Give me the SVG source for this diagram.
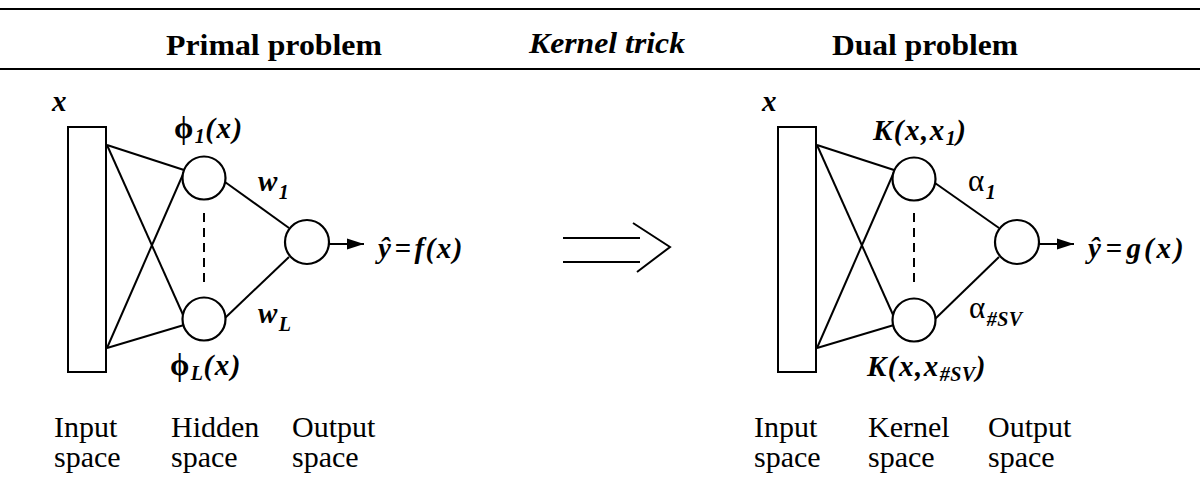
<svg xmlns="http://www.w3.org/2000/svg" width="1200" height="504" viewBox="0 0 1200 504">
<defs>
<marker id="ah" markerWidth="18" markerHeight="12" refX="17" refY="6" orient="auto" markerUnits="userSpaceOnUse">
<path d="M0,0.5 L17,6 L0,11.5 Z" fill="#000"/>
</marker>
</defs>
<style>
.ln{stroke:#000;stroke-width:2;fill:none}
.nd{stroke:#000;stroke-width:2.2;fill:#fff}
.rc{stroke:#000;stroke-width:2;fill:#fff}
.dash{stroke:#000;stroke-width:2;stroke-dasharray:9,6;fill:none}
.hd{font-family:"Liberation Serif","DejaVu Serif",serif;font-weight:bold;font-size:30px;fill:#000}
.mt{font-family:"Liberation Serif","DejaVu Serif",serif;font-weight:bold;font-style:italic;font-size:29px;letter-spacing:1.5px;fill:#000}
.gr{font-style:normal;font-size:31px}
.al{font-style:normal;font-weight:normal;font-size:31px}
.sb{font-size:20px;letter-spacing:0.5px}
.lb{font-family:"Liberation Serif","DejaVu Serif",serif;font-size:30px;fill:#000}
</style>
<rect width="1200" height="504" fill="#fff"/>
<g id="header">
<line x1="0" y1="9" x2="1200" y2="9" class="ln"/>
<line x1="0" y1="69" x2="1200" y2="69" class="ln"/>
<text x="166" y="55" class="hd" textLength="216" lengthAdjust="spacingAndGlyphs">Primal problem</text>
<text x="529" y="53" class="hd" font-style="italic" textLength="156" lengthAdjust="spacingAndGlyphs">Kernel trick</text>
<text x="832" y="55" class="hd" textLength="186" lengthAdjust="spacingAndGlyphs">Dual problem</text>
</g>
<g id="connectors">
<line x1="107" y1="145" x2="184" y2="170" class="ln"/>
<line x1="107" y1="145" x2="184" y2="317" class="ln"/>
<line x1="107" y1="348" x2="184" y2="172" class="ln"/>
<line x1="107" y1="348" x2="184" y2="325" class="ln"/>
<line x1="204" y1="213" x2="204" y2="288" class="dash"/>
<line x1="225" y1="182" x2="289" y2="228" class="ln"/>
<line x1="225" y1="318" x2="289" y2="257" class="ln"/>
<line x1="329" y1="244" x2="364" y2="244" class="ln" marker-end="url(#ah)"/>
<line x1="817" y1="145" x2="894" y2="170" class="ln"/>
<line x1="817" y1="145" x2="894" y2="317" class="ln"/>
<line x1="817" y1="348" x2="894" y2="172" class="ln"/>
<line x1="817" y1="348" x2="894" y2="325" class="ln"/>
<line x1="914" y1="213" x2="914" y2="288" class="dash"/>
<line x1="935" y1="183" x2="999" y2="228" class="ln"/>
<line x1="935" y1="319" x2="999" y2="257" class="ln"/>
<line x1="1039" y1="244" x2="1074" y2="244" class="ln" marker-end="url(#ah)"/>
</g>
<g id="kernel-arrow">
<line x1="563" y1="238" x2="640" y2="238" class="ln"/>
<line x1="563" y1="262" x2="640" y2="262" class="ln"/>
<polyline points="633,223 670,247 637,272" class="ln"/>
</g>
<g id="primal-input">
<rect x="68" y="127" width="38" height="245" class="rc"/>
<text x="52" y="111" class="mt">x</text>
</g>
<g id="primal-hidden-1">
<circle cx="204" cy="178" r="21.5" class="nd"/>
<text x="174" y="138" class="mt"><tspan class="gr">ϕ</tspan><tspan class="sb" dy="5">1</tspan><tspan dy="-5">(x)</tspan></text>
</g>
<g id="primal-hidden-L">
<circle cx="204" cy="319" r="21.5" class="nd"/>
<text x="170" y="375" class="mt"><tspan class="gr">ϕ</tspan><tspan class="sb" dy="5">L</tspan><tspan dy="-5">(x)</tspan></text>
</g>
<g id="primal-output">
<circle cx="307" cy="242" r="22" class="nd"/>
<text x="258" y="191" class="mt">w<tspan class="sb" dy="8">1</tspan></text>
<text x="258" y="323" class="mt">w<tspan class="sb" dy="8">L</tspan></text>
<text x="378" y="258" class="mt" letter-spacing="0">ŷ<tspan dx="2">=</tspan><tspan dx="2">f(x)</tspan></text>
</g>
<g id="dual-input">
<rect x="778" y="127" width="38" height="245" class="rc"/>
<text x="762" y="111" class="mt">x</text>
</g>
<g id="dual-kernel-1">
<circle cx="914" cy="179" r="21.5" class="nd"/>
<text x="873" y="140" class="mt">K(x,x<tspan class="sb" dy="5">1</tspan><tspan dy="-5">)</tspan></text>
</g>
<g id="dual-kernel-SV">
<circle cx="914" cy="320" r="21.5" class="nd"/>
<text x="867" y="376" class="mt">K(x,x<tspan class="sb" dy="5">#SV</tspan><tspan dy="-5">)</tspan></text>
</g>
<g id="dual-output">
<circle cx="1017" cy="242" r="22" class="nd"/>
<text x="968" y="191" class="mt"><tspan class="al">α</tspan><tspan class="sb" dy="8">1</tspan></text>
<text x="969" y="318" class="mt"><tspan class="al">α</tspan><tspan class="sb" dy="8">#SV</tspan></text>
<text x="1088" y="258" class="mt" letter-spacing="0">ŷ<tspan dx="3">=</tspan><tspan dx="3" letter-spacing="3">g(x)</tspan></text>
</g>
<g id="labels">
<text class="lb"><tspan x="54" y="437">Input</tspan><tspan x="54" y="467">space</tspan></text>
<text class="lb"><tspan x="171" y="437">Hidden</tspan><tspan x="171" y="467">space</tspan></text>
<text class="lb"><tspan x="292" y="437">Output</tspan><tspan x="292" y="467">space</tspan></text>
<text class="lb"><tspan x="754" y="437">Input</tspan><tspan x="754" y="467">space</tspan></text>
<text class="lb"><tspan x="868" y="437">Kernel</tspan><tspan x="868" y="467">space</tspan></text>
<text class="lb"><tspan x="988" y="437">Output</tspan><tspan x="988" y="467">space</tspan></text>
</g>
</svg>
